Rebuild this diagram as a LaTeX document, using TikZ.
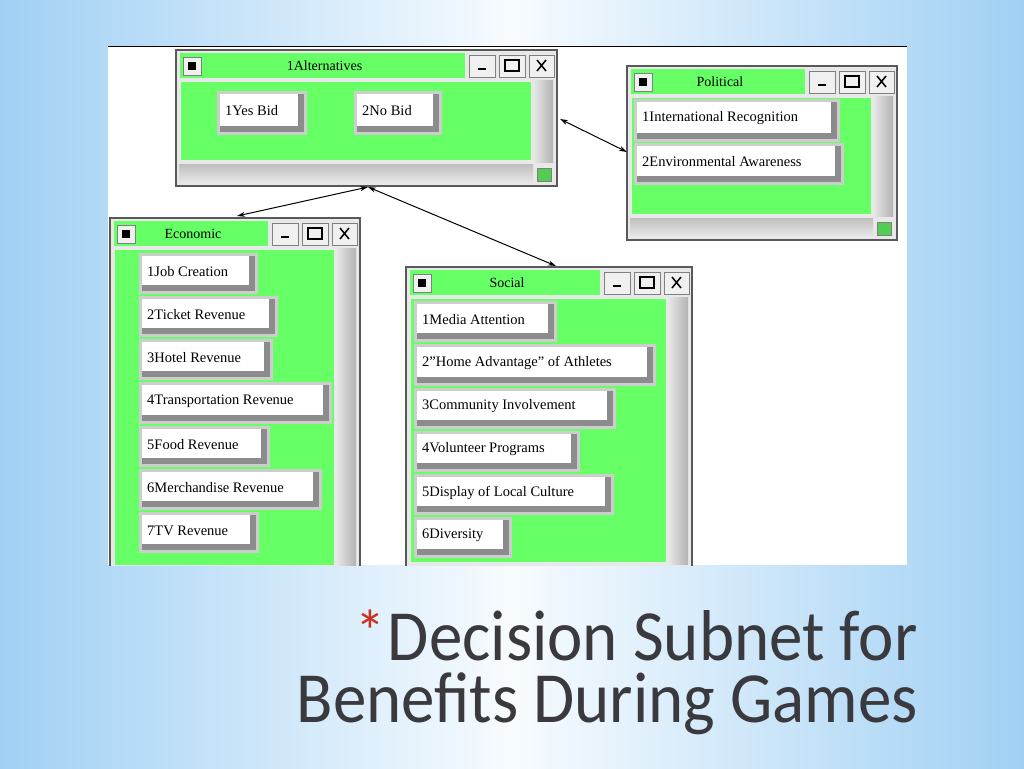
\documentclass[tikz,border=0pt]{standalone}
\usepackage{fontspec}
\usetikzlibrary{arrows.meta}
\setmainfont{Liberation Serif}
\newfontfamily\titlefont{Carlito}
\definecolor{skyblue}{RGB}{160,208,244}
\definecolor{winfill}{RGB}{232,232,232}
\definecolor{wingreen}{RGB}{102,255,102}
\definecolor{bevelgray}{RGB}{140,140,140}
\definecolor{framegray}{RGB}{205,205,205}
\definecolor{titlegray}{RGB}{58,58,62}
\definecolor{starred}{RGB}{200,50,30}

% one option button of a window
\newcommand\optbtn[6]{%
  \fill[framegray] (#2,#3) rectangle (#4,#5);
  \fill[bevelgray] (#2+3,#3+3) rectangle (#4-3,#5-3);
  \fill[white] (#2+3,#3+3) rectangle (#4-9,#5-9);
  \node[btntext] (#1) at (#2+8,#3/2+#5/2-2) {#6};
}
% one window: name, x1, y1, x2, y2, end of title bar, title
\newcommand\appwin[7]{%
  \draw[winframe] (#2,#3) rectangle (#4,#5);
  \fill[wingreen] (#2+4,#3+3) rectangle (#6,#3+28);
  \draw[ctrlbox] (#2+7,#3+7) rectangle (#2+25,#3+25);
  \fill[black] (#2+12,#3+12) rectangle (#2+20,#3+20);
  \draw[ctrlbox] (#4-88,#3+5) rectangle (#4-62,#3+27);
  \draw[ctrlbox] (#4-58,#3+5) rectangle (#4-32,#3+27);
  \draw[ctrlbox] (#4-28,#3+5) rectangle (#4-3,#3+27);
  \draw[line width=2pt] (#4-79,#3+19) -- (#4-71,#3+19);
  \draw[line width=1.5pt] (#4-52,#3+10) rectangle (#4-38,#3+21);
  \draw[line width=1.5pt] (#4-20,#3+10) -- (#4-11,#3+21) (#4-20,#3+21) -- (#4-11,#3+10);
  \node[wintitle] (#1) at (#2/2+#6/2+4,#3+16) {#7};
  \fill[wingreen] (#2+5,#3+32) rectangle (#4-26,#5-26);
  \shade[left color=winfill, right color=gray!60] (#4-24,#3+30) rectangle (#4-4,#5-24);
  \shade[top color=gray!50, bottom color=winfill] (#2+3,#5-22) rectangle (#4-24,#5-3);
  \draw[fill=wingreen!80!black, draw=gray] (#4-20,#5-18) rectangle (#4-6,#5-5);
}

\begin{document}
\begin{tikzpicture}[
    x=1pt, y=-1pt,
    winframe/.style={draw=gray!70!black, line width=1.2pt, fill=winfill},
    ctrlbox/.style={draw=gray, fill=gray!12, line width=0.8pt},
    wintitle/.style={font=\fontsize{14}{16}\selectfont, inner sep=0pt},
    btntext/.style={anchor=west, inner sep=0pt, font=\fontsize{14.5}{16}\selectfont},
    link/.style={{Stealth[length=8pt,width=5pt]}-{Stealth[length=8pt,width=5pt]}, line width=1pt}
  ]
  % background
  \shade[left color=skyblue, right color=skyblue, middle color=white!92!skyblue]
    (0,0) rectangle (1024,768);
  \useasboundingbox (0,0) rectangle (1024,768);
  \fill[white] (108,47) rectangle (907,565);
  \draw[line width=1pt] (108,47) -- (907,47);

  \begin{scope}
    \clip (108,47) rectangle (907,565);
    % windows
    \appwin{alt}{176}{50}{557}{186}{465}{1Alternatives}
    \optbtn{yes}{217}{91}{307}{135}{1Yes Bid}
    \optbtn{no}{354}{91}{442}{135}{2No Bid}

    \appwin{pol}{627}{66}{897}{240}{805}{Political}
    \optbtn{intl}{634}{99}{840}{142}{1International Recognition}
    \optbtn{env}{634}{143}{844}{185}{2Environmental Awareness}

    \appwin{econ}{110}{218}{360}{591}{268}{Economic}
    \optbtn{job}{139}{253}{258}{294}{1Job Creation}
    \optbtn{ticket}{139}{296}{278}{337}{2Ticket Revenue}
    \optbtn{hotel}{139}{339}{273}{380}{3Hotel Revenue}
    \optbtn{transp}{139}{382}{332}{424}{4Transportation Revenue}
    \optbtn{food}{139}{426}{270}{467}{5Food Revenue}
    \optbtn{merch}{139}{469}{322}{510}{6Merchandise Revenue}
    \optbtn{tv}{139}{512}{259}{553}{7TV Revenue}

    \appwin{soc}{406}{267}{692}{588}{600}{Social}
    \optbtn{media}{414}{301}{557}{342}{1Media Attention}
    \optbtn{home}{414}{344}{656}{386}{2\symbol{34}Home Advantage\symbol{34} of Athletes}
    \optbtn{comm}{414}{388}{616}{429}{3Community Involvement}
    \optbtn{volun}{414}{431}{580}{472}{4Volunteer Programs}
    \optbtn{disp}{414}{474}{614}{515}{5Display of Local Culture}
    \optbtn{div}{414}{517}{512}{558}{6Diversity}
  \end{scope}

  % links between windows
  \coordinate (altbot) at (368,187);
  \coordinate (altright) at (560,119);
  \coordinate (econtop) at (237,216);
  \coordinate (soctop) at (556,266);
  \coordinate (polleft) at (627,152);
  \draw[link] (altbot) -- (econtop);
  \draw[link] (altbot) -- (soctop);
  \draw[link] (altright) -- (polleft);

  % slide title
  \node[anchor=base east, text=titlegray, inner sep=0pt] (title1) at (918,660)
    {\titlefont\fontsize{72}{60}\selectfont\scalebox{0.93}[1]{Decision Subnet for}};
  \node[anchor=base east, text=titlegray, inner sep=0pt] (title2) at (918,722)
    {\titlefont\fontsize{72}{60}\selectfont\scalebox{0.93}[1]{Benefits During Games}};
  \node[anchor=north east, text=starred, inner sep=0pt] (star) at ([xshift=-2pt]title1.north west)
    {\titlefont\fontsize{60}{60}\selectfont *};
\end{tikzpicture}
\end{document}
